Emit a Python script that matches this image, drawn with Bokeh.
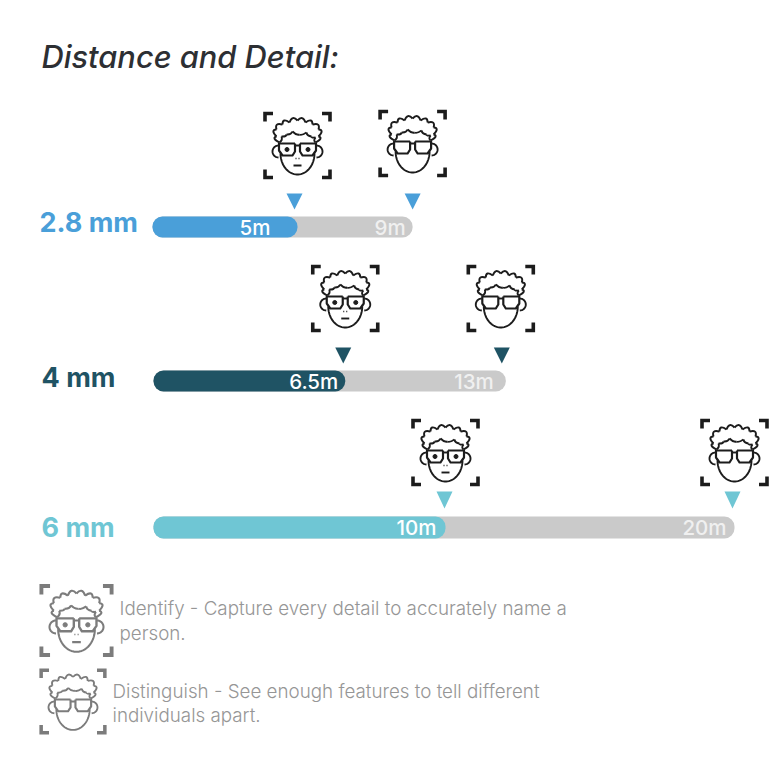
from bokeh.plotting import figure
from bokeh.embed import file_html
from bokeh.resources import INLINE
from bokeh.core.properties import value
import numpy as np

lenses = ["2.8 mm", "4 mm", "6 mm"]
identify_m = [5, 6.5, 10]
distinguish_m = [9, 13, 20]
identify_labels = ["5m", "6.5m", "10m"]
distinguish_labels = ["9m", "13m", "20m"]
lens_colors = ["#4a9fd9", "#1f5364", "#6fc6d4"]
grey = "#cacaca"

title = "Distance and Detail:"
legend_lines = [
    ("Identify - Capture every detail to accurately name a", 119, 608),
    ("person.", 119, 633),
    ("Distinguish - See enough features to tell different", 112, 691),
    ("individuals apart.", 112, 715),
]

# layout of each row (reference pixels)
row_x0 = [152, 153, 153]
scale_identify = [29.0, 29.5, 29.2]
scale_distinguish = [28.9, 27.1, 29.05]
row_top = [216, 370, 516]
row_bottom = [237, 391, 538]
label_y = [222, 377, 527]
label_x = [39, 41, 41]
text_off_a = [-27, -7, -9]
text_off_b = [-7, -12, -8]
arrow_off_a = [-3, -2, -1]
arrow_off_b = [0, -4, -2]
icon_off_b = [0, -5, 0]

p = figure(width=771, height=771, x_range=(0, 771), y_range=(771, 0),
           toolbar_location=None, output_backend="svg", min_border=0,
           outline_line_color=None, background_fill_color="white")
p.axis.visible = False
p.grid.visible = False
FONT = "Inter"


def txt(x, y, s, size, color, style="normal", align="left", font=FONT):
    p.text([x], [y], text=[s], text_font=value(font), text_font_size=f"{size}px",
           text_color=color, text_font_style=style, text_align=align,
           text_baseline="middle")


def bump_chain(pts, bulge):
    """scalloped outline through pts, each bump pushed outward from the head centre"""
    out = []
    for (a, b) in zip(pts[:-1], pts[1:]):
        mx, my = (a[0] + b[0]) / 2, (a[1] + b[1]) / 2
        dx, dy = mx, my + 2
        n = np.hypot(dx, dy) or 1
        out.append((a, b, (mx + dx / n * bulge, my + dy / n * bulge)))
    return out


HAIR = [(-18, -3), (-21, -9), (-21, -16), (-15, -21), (-8, -23), (0, -25),
        (8, -23), (15, -21), (21, -16), (21, -9), (18, -3)]
HAIR_IN = [(-18, -3), (-16, -9), (-11, -11), (-5, -14), (2, -11), (9, -13),
           (14, -9), (18, -8), (18, -3)]


def icon(cx, cy, s, color, eyes, lw=1.9, cl=8, ct=3.6):
    X = lambda v: cx + np.asarray(v) * s
    Y = lambda v: cy + np.asarray(v) * s
    w = lw * s
    # corner brackets
    hw, hh = 32.5, 32
    for sx in (-1, 1):
        for sy in (-1, 1):
            xx = [sx * (hw - cl), sx * hw, sx * hw]
            yy = [sy * hh, sy * hh, sy * (hh - cl)]
            p.line(X(xx), Y(yy), line_color=color, line_width=ct * s,
                   line_join="miter")
    # hair
    for pts, b in ((HAIR, 7.0), (HAIR_IN, -2.5)):
        for (a, e, c) in bump_chain(pts, b):
            p.quadratic(X(a[0]), Y(a[1]), X(e[0]), Y(e[1]), X(c[0]), Y(c[1]),
                        line_color=color, line_width=w)
    # face: jaw
    t = np.linspace(0, np.pi, 40)
    p.line(X(17 * np.cos(t)), Y(8 + 21 * np.sin(t)), line_color=color, line_width=w)
    # ears
    for sx in (-1, 1):
        t = np.linspace(-np.pi / 2, np.pi / 2, 20)
        p.line(X(sx * (19 + 6 * np.cos(t))), Y(6 + 6 * np.sin(t)),
               line_color=color, line_width=w)
    # glasses
    for sx in (-1, 1):
        lx = [sx * 2.5, sx * 18.5, sx * 18.5, sx * 15, sx * 5, sx * 2.5, sx * 2.5]
        ly = [-2, -2, 5, 10, 10, 6, -2]
        p.line(X(lx), Y(ly), line_color=color, line_width=w * 1.15,
               line_join="round")
    p.line(X([-2.5, 2.5]), Y([0, 0]), line_color=color, line_width=w)
    if eyes:
        for sx in (-1, 1):
            p.scatter(X([sx * 10.5]), Y([4]), size=4 * s, color=color)
        p.line(X([-2, -1]), Y([13, 13]), line_color=color, line_width=w * .8)
        p.line(X([1, 2]), Y([13, 13]), line_color=color, line_width=w * .8)
        p.line(X([-4, 4]), Y([20, 20]), line_color=color, line_width=w)


# title
txt(41, 56, title, 30.8, "#2d2f33", style="italic", font="Inter Medium")

# rows
icon_y = [[145, 143], [298, 298], [452, 452]]
arrow_top = [193, 347, 491]
arrow_bottom = [209, 363, 508]
for i, name in enumerate(lenses):
    x0 = row_x0[i]
    xa = x0 + identify_m[i] * scale_identify[i]
    xb = x0 + distinguish_m[i] * scale_distinguish[i]
    p.quad(left=[x0], right=[xb], top=[row_top[i]], bottom=[row_bottom[i]],
           fill_color=grey, line_color=None, border_radius=10)
    p.quad(left=[x0], right=[xa], top=[row_top[i]], bottom=[row_bottom[i]],
           fill_color=lens_colors[i], line_color=None, border_radius=10)
    ym = (row_top[i] + row_bottom[i]) / 2
    txt(xa + text_off_a[i], ym, identify_labels[i], 20.5, "white", align="right",
        font="Inter Medium")
    txt(xb + text_off_b[i], ym, distinguish_labels[i], 20.5, "#f0f0f0", align="right",
        font="Inter Medium")
    txt(label_x[i], label_y[i], name, 27, lens_colors[i], style="bold")
    for xp, off in ((xa, arrow_off_a[i]), (xb, arrow_off_b[i])):
        p.patch([xp + off - 8, xp + off + 8, xp + off],
                [arrow_top[i], arrow_top[i], arrow_bottom[i]],
                fill_color=lens_colors[i], line_color=None)
    icon(xa, icon_y[i][0], 1.0, "#1c1c1c", True)
    icon(xb + icon_off_b[i], icon_y[i][1], 1.0, "#1c1c1c", False)

# legend
icon(76, 620, 1.08, "#7c7c7c", True)
icon(72.5, 701, 0.98, "#7c7c7c", False)
for s, x, y in legend_lines:
    txt(x, y, s, 18.8, "#969696", font="Inter Light")

open("out.html", "w").write(file_html(p, INLINE))
